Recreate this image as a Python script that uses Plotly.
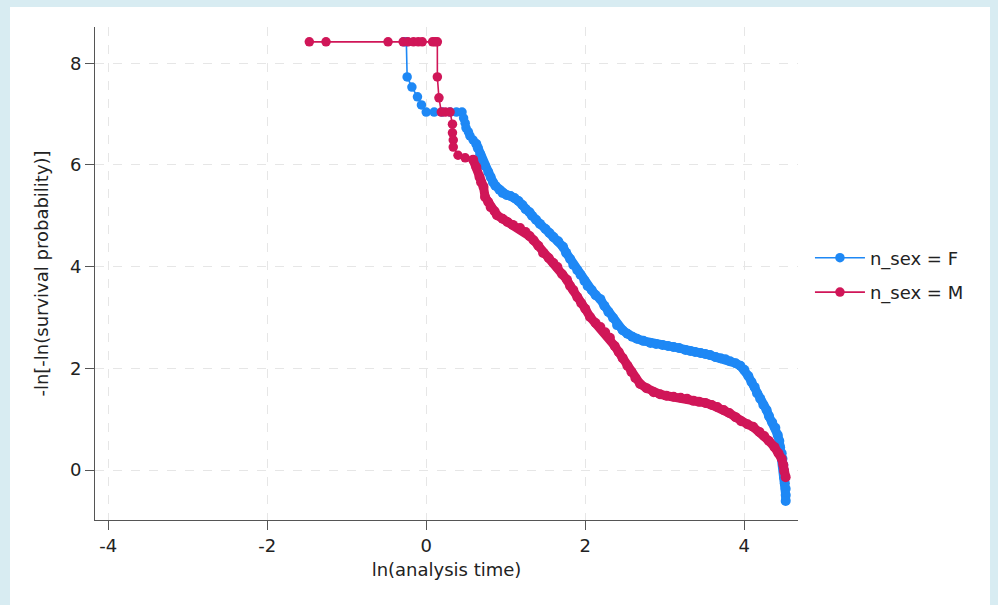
import plotly.graph_objects as go

# ln(analysis time) and -ln[-ln(S)] for n_sex = F
f_x = [-0.28, -0.25, -0.24, -0.18, -0.11, -0.06, 0.00, 0.10, 0.20, 0.30, 0.38, 0.45,
       0.47, 0.49, 0.50, 0.53, 0.55, 0.59, 0.63, 0.65, 0.68, 0.70, 0.74, 0.78, 0.81,
       0.84, 0.87, 0.92, 0.96, 1.01, 1.06, 1.11, 1.16, 1.21, 1.25, 1.30, 1.33, 1.38,
       1.43, 1.50, 1.55, 1.60, 1.66, 1.72, 1.76, 1.81, 1.85, 1.90, 1.94, 1.99, 2.03,
       2.08, 2.13, 2.19, 2.24, 2.29, 2.35, 2.40, 2.47, 2.53, 2.59, 2.65, 2.73, 2.82,
       2.89, 2.97, 3.04, 3.11, 3.18, 3.26, 3.32, 3.38, 3.45, 3.51, 3.57, 3.64, 3.70,
       3.76, 3.82, 3.89, 3.95, 4.00, 4.05, 4.09, 4.13, 4.16, 4.20, 4.24, 4.28, 4.31,
       4.35, 4.39, 4.42, 4.44, 4.45, 4.47, 4.48, 4.49, 4.50, 4.50, 4.51, 4.52, 4.52,
       4.52]
f_y = [8.42, 8.42, 7.73, 7.53, 7.34, 7.18, 7.04, 7.04, 7.04, 7.04, 7.04, 7.04,
       6.92, 6.82, 6.73, 6.65, 6.57, 6.49, 6.41, 6.33, 6.21, 6.10, 5.98, 5.86, 5.76,
       5.66, 5.59, 5.51, 5.45, 5.41, 5.39, 5.35, 5.29, 5.21, 5.13, 5.07, 5.00, 4.92,
       4.84, 4.74, 4.66, 4.58, 4.50, 4.39, 4.27, 4.15, 4.03, 3.93, 3.84, 3.72, 3.62,
       3.54, 3.44, 3.36, 3.23, 3.11, 2.99, 2.85, 2.75, 2.68, 2.62, 2.58, 2.54, 2.50,
       2.48, 2.46, 2.44, 2.42, 2.40, 2.36, 2.34, 2.32, 2.30, 2.28, 2.26, 2.22, 2.20,
       2.18, 2.14, 2.10, 2.05, 1.97, 1.85, 1.73, 1.63, 1.51, 1.40, 1.28, 1.18, 1.06,
       0.94, 0.83, 0.69, 0.57, 0.45, 0.33, 0.22, 0.10, -0.02, -0.14, -0.26, -0.37,
       -0.49, -0.61, -0.75]

# ln(analysis time) and -ln[-ln(S)] for n_sex = M
m_x = [-1.47, -1.26, -0.48, -0.29, -0.23, -0.16, -0.10, -0.05, 0.08, 0.11, 0.14,
       0.14, 0.16, 0.19, 0.24, 0.30, 0.33, 0.33, 0.34, 0.34, 0.40, 0.49, 0.59, 0.63,
       0.67, 0.69, 0.72, 0.74, 0.78, 0.81, 0.86, 0.89, 0.96, 1.02, 1.09, 1.18, 1.25,
       1.30, 1.35, 1.41, 1.47, 1.54, 1.60, 1.65, 1.71, 1.77, 1.81, 1.85, 1.90, 1.95,
       2.00, 2.06, 2.13, 2.19, 2.25, 2.31, 2.37, 2.42, 2.47, 2.53, 2.58, 2.63, 2.69,
       2.77, 2.86, 2.94, 3.02, 3.11, 3.20, 3.28, 3.36, 3.43, 3.51, 3.59, 3.66, 3.74,
       3.81, 3.89, 3.96, 4.04, 4.11, 4.19, 4.25, 4.31, 4.38, 4.43, 4.47, 4.49, 4.50,
       4.52]
m_y = [8.42, 8.42, 8.42, 8.42, 8.42, 8.42, 8.42, 8.42, 8.42, 8.42, 8.42,
       7.73, 7.32, 7.04, 7.04, 7.04, 6.80, 6.63, 6.49, 6.35, 6.19, 6.14, 6.10, 5.96,
       5.76, 5.66, 5.57, 5.37, 5.27, 5.17, 5.09, 5.01, 4.94, 4.88, 4.82, 4.76, 4.68,
       4.60, 4.52, 4.41, 4.27, 4.17, 4.07, 3.99, 3.85, 3.74, 3.62, 3.54, 3.40, 3.28,
       3.17, 3.01, 2.89, 2.81, 2.71, 2.60, 2.44, 2.32, 2.20, 2.05, 1.93, 1.81, 1.69,
       1.61, 1.53, 1.49, 1.46, 1.44, 1.42, 1.40, 1.36, 1.34, 1.32, 1.28, 1.24, 1.18,
       1.12, 1.04, 0.96, 0.90, 0.85, 0.75, 0.67, 0.57, 0.45, 0.33, 0.22, 0.10, -0.02,
       -0.14]

x_ticks = [-4, -2, 0, 2, 4]
y_ticks = [0, 2, 4, 6, 8]

FONT = "DejaVu Sans"
BLUE = "#1e88f5"
RED = "#d01658"

# where the observations become dense enough to merge into a solid band
F_DENSE = 18
M_DENSE = 22

fig = go.Figure()


def add_series(xs, ys, k, name, color):
    # sparse early steps: thin connecting line with markers (carries the legend entry)
    fig.add_trace(go.Scatter(x=xs[:k + 1], y=ys[:k + 1], mode="lines+markers",
                             name=name, legendgroup=name,
                             line=dict(color=color, width=1.6),
                             marker=dict(color=color, size=9.5)))
    # dense part: overlapping markers form a solid band
    fig.add_trace(go.Scatter(x=xs[k:], y=ys[k:], mode="lines+markers",
                             name=name, legendgroup=name, showlegend=False,
                             line=dict(color=color, width=9),
                             marker=dict(color=color, size=10)))


add_series(f_x, f_y, F_DENSE, "n_sex = F", BLUE)
add_series(m_x, m_y, M_DENSE, "n_sex = M", RED)

axis_common = dict(
    showline=True, linecolor="#555555", linewidth=1,
    ticks="outside", ticklen=9, tickcolor="#555555", tickwidth=1,
    showgrid=True, gridcolor="#e6e6e6", griddash="dash", gridwidth=1,
    zeroline=False, tickfont=dict(family=FONT, size=18, color="#222222"),
    mirror=False,
)

fig.update_xaxes(range=[-4.165, 4.675], tickvals=x_ticks,
                 ticktext=[str(v) for v in x_ticks],
                 title=dict(text="ln(analysis time)",
                            font=dict(family=FONT, size=18, color="#222222"),
                            standoff=8),
                 **axis_common)
fig.update_yaxes(range=[-0.983, 8.712], tickvals=y_ticks,
                 ticktext=[str(v) for v in y_ticks],
                 title=dict(text="-ln[-ln(survival probability)]",
                            font=dict(family=FONT, size=18, color="#222222"),
                            standoff=16),
                 **axis_common)

fig.update_layout(
    width=998, height=605,
    margin=dict(l=95, r=200, t=27, b=85),
    paper_bgcolor="#d8ecf2",
    plot_bgcolor="white",
    hovermode=False,
    legend=dict(x=1.017, y=0.497, xanchor="left", yanchor="middle",
                font=dict(family=FONT, size=18, color="#222222"),
                bgcolor="rgba(0,0,0,0)", tracegroupgap=8,
                traceorder="grouped", itemwidth=50),
    shapes=[dict(type="rect", xref="paper", yref="paper",
                 x0=(10 - 95) / 703, x1=(990 - 95) / 703,
                 y0=(520 - 605) / 493, y1=(520 - 7) / 493,
                 fillcolor="white", line=dict(width=0), layer="below")],
)

fig.write_html("out.html", config={"displayModeBar": False},
               post_script="document.body.style.margin='0';"
                           "document.body.style.overflow='hidden';")
